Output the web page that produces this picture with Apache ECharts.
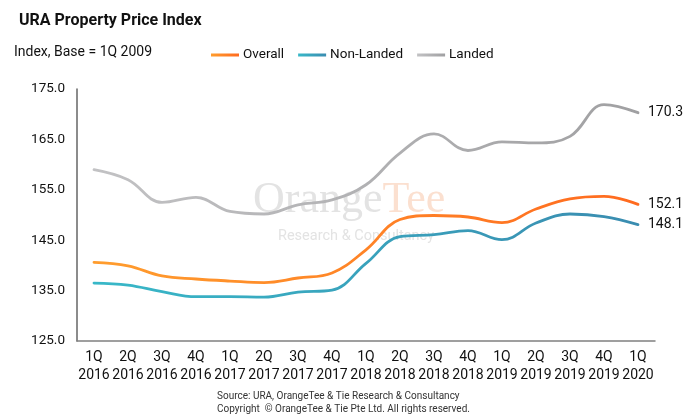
<!DOCTYPE html>
<html>
<head>
<meta charset="utf-8">
<script src="https://cdn.jsdelivr.net/npm/echarts@6/dist/echarts.min.js"></script>
<style>html,body{margin:0;padding:0;background:#fff}#c{width:687px;height:414px}</style>
</head>
<body>
<div id="c"></div>
<script>
const categories = ['1Q\n2016','2Q\n2016','3Q\n2016','4Q\n2016','1Q\n2017','2Q\n2017','3Q\n2017','4Q\n2017','1Q\n2018','2Q\n2018','3Q\n2018','4Q\n2018','1Q\n2019','2Q\n2019','3Q\n2019','4Q\n2019','1Q\n2020'];
const overall    = [140.6,139.9,137.9,137.3,136.9,136.6,137.5,138.5,143.1,149.1,149.9,149.6,148.5,151.2,153.2,153.7,152.1];
const nonLanded  = [136.5,136.1,134.8,133.8,133.8,133.7,134.7,135.1,140.4,145.7,146.1,146.9,145.1,148.4,150.2,149.7,148.1];
const landed     = [159.0,157.0,152.5,153.5,150.7,150.2,152.0,153.0,156.0,162.3,166.1,162.8,164.5,164.3,165.6,171.9,170.3];
const yTicks = {min:125, max:175, interval:10};

const chart = echarts.init(document.getElementById('c'), null, {renderer:'canvas'});
const grad = (a,b) => new echarts.graphic.LinearGradient(0,0,1,0,[{offset:0,color:a},{offset:1,color:b}]);
const font = 'Roboto, "Liberation Sans", Arial, sans-serif';
function mk(name, data, c1, c2){
  return {
    name, type:'line', data, smooth:0.4, symbol:'none',
    lineStyle:{width:2.8, color:grad(c1,c2), cap:'round'},
    itemStyle:{color:grad(c1,c2)},
    endLabel:{show:true, formatter:p=>p.value.toFixed(1), color:'#111', fontSize:14, fontFamily:font, distance:10},
    z:3
  };
}
chart.setOption({
  animation:false,
  textStyle:{fontFamily:font},
  title:{text:'URA Property Price Index', left:14, top:8, textStyle:{fontSize:16, fontWeight:'bold', color:'#111', fontFamily:font}},
  legend:{top:48, left:211, padding:0, itemWidth:28, itemHeight:3, itemGap:14, icon:'rect',
    textStyle:{fontSize:13.5, color:'#111', fontFamily:font, padding:[0,0,0,-1]},
    data:['Overall','Non-Landed','Landed']},
  grid:{left:77, right:32, top:89, bottom:73, containLabel:false},
  xAxis:{type:'category', data:categories, boundaryGap:true,
    axisLine:{lineStyle:{color:'#808080', width:1.5}}, axisTick:{show:false},
    axisLabel:{color:'#111', fontSize:14, lineHeight:18, margin:7, interval:0, fontFamily:font}},
  yAxis:{type:'value', min:yTicks.min, max:yTicks.max, interval:yTicks.interval,
    axisLine:{show:true, lineStyle:{color:'#666', width:1.5}}, axisTick:{show:false}, splitLine:{show:false},
    axisLabel:{color:'#111', fontSize:13.5, margin:12, formatter:v=>v.toFixed(1), fontFamily:font}},
  graphic:[
    {type:'text', left:14, top:45, style:{text:'Index, Base = 1Q 2009', fontSize:14, fill:'#111', fontFamily:font}},
    {type:'text', x:253, y:178, z:1, style:{rich:{a:{fill:'#e3e3e3', fontSize:44, fontFamily:'"Liberation Serif", "DejaVu Serif", serif'}, b:{fill:'#fbe0d0', fontSize:44, fontFamily:'"Liberation Serif", "DejaVu Serif", serif'}}, text:'{a|Orange}{b|Tee}'}},
    {type:'text', x:278, y:229, z:1, style:{text:'Research & Consultancy', fontSize:14.5, fill:'#e3e3e3', fontFamily:font}},
    {type:'text', left:'center', top:390, style:{text:'Source: URA, OrangeTee & Tie Research & Consultancy\nCopyright  © OrangeTee & Tie Pte Ltd. All rights reserved.', fontSize:10, lineHeight:13, fill:'#333', align:'center', fontFamily:font}}
  ],
  series:[
    mk('Overall', overall, '#ff9d2e', '#ff6a1f'),
    mk('Non-Landed', nonLanded, '#38b8c8', '#3a8cb0'),
    mk('Landed', landed, '#c2c2c4', '#a0a0a2')
  ]
});
</script>
</body>
</html>
